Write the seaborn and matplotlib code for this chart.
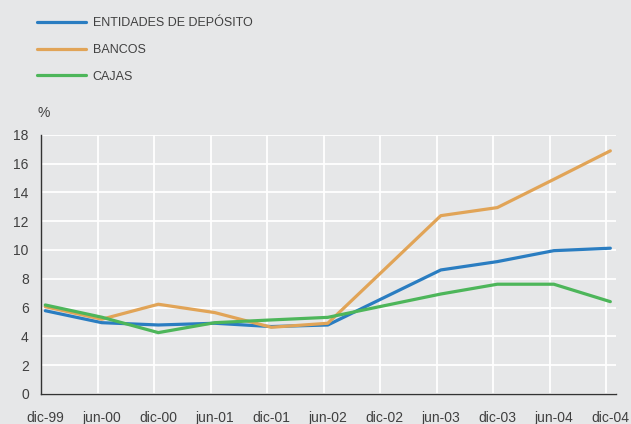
import matplotlib
matplotlib.use("Agg")
import matplotlib.pyplot as plt
import seaborn as sns
import pandas as pd
import numpy as np
from matplotlib.ticker import FixedLocator

periods = ["dic-99", "jun-00", "dic-00", "jun-01", "dic-01", "jun-02",
           "dic-02", "jun-03", "dic-03", "jun-04", "dic-04"]
entidades = [5.78, 4.95, 4.79, 4.91, 4.68, 4.79, 6.70, 8.61, 9.19, 9.95, 10.12]
bancos = [6.06, 5.19, 6.23, 5.65, 4.63, 4.91, 8.64, 12.38, 12.94, 14.90, 16.88]
cajas = [6.18, 5.33, 4.26, 4.95, 5.14, 5.32, 6.13, 6.94, 7.62, 7.62, 6.41]
series_names = ["ENTIDADES DE DEPÓSITO", "BANCOS", "CAJAS"]
colors = ["#2a7dc1", "#e1a457", "#4db65a"]
yticks = [0, 2, 4, 6, 8, 10, 12, 14, 16, 18]

sns.set_theme(style="white")
plt.rcParams['font.family'] = ['Liberation Sans', 'DejaVu Sans']

bg = "#e6e7e8"
txt = "#404040"

rows = []
for name, vals in zip(series_names, [entidades, bancos, cajas]):
    for i, v in enumerate(vals):
        rows.append({"idx": i, "value": v, "serie": name})
df = pd.DataFrame(rows)

fig = plt.figure(figsize=(6.31, 4.24), dpi=100, facecolor=bg)
ax = fig.add_axes([0.0655, 0.0708, 0.9762 - 0.0655, 0.6823 - 0.0708])
ax.set_facecolor(bg)

sns.lineplot(data=df, x="idx", y="value", hue="serie", hue_order=series_names,
             palette=colors, linewidth=2.3, ax=ax, legend=False, zorder=3)

ax.set_xlim(-0.07, 10.1)
ax.set_ylim(0, 18)
ax.set_xticks(range(len(periods)))
ax.set_xticklabels(periods)
ax.set_yticks(yticks)
ax.set_yticklabels([str(t) for t in yticks])
ax.xaxis.set_minor_locator(FixedLocator([i - 0.07 for i in range(len(periods))]))
ax.grid(False)
ax.grid(True, which="minor", axis="x", color="white", linewidth=1.3)
ax.grid(True, which="major", axis="y", color="white", linewidth=1.3)
ax.tick_params(axis="both", which="both", length=0, colors=txt, labelsize=10)
ax.tick_params(axis="x", pad=12.5)
ax.tick_params(axis="y", pad=9)
ax.set_xlabel("")
ax.set_ylabel("")
for s in ["top", "right"]:
    ax.spines[s].set_visible(False)
for s in ["left", "bottom"]:
    ax.spines[s].set_color("#333333")
    ax.spines[s].set_linewidth(1.0)
    ax.spines[s].set_zorder(4)

handles = [plt.Line2D([], [], color=c, linewidth=2.3) for c in colors]
fig.legend(handles, series_names, loc="upper left", bbox_to_anchor=(0.0586, 0.959),
           frameon=False, fontsize=9, handlelength=3.9, handletextpad=0.55,
           labelspacing=1.17, borderpad=0, borderaxespad=0, labelcolor=txt)

fig.text(0.06, 1 - 113 / 424, "%", ha="left", va="center", fontsize=10, color=txt)

fig.savefig("out.png", dpi=100, facecolor=bg)
